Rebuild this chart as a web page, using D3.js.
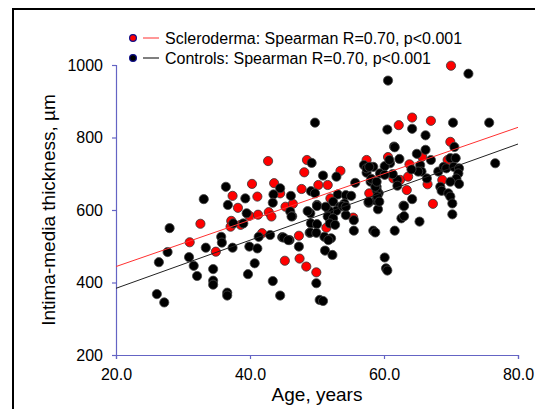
<html>
  <head>
    <title>IMT vs age</title>
    <script src="https://d3js.org/d3.v7.min.js"></script>
    <style>
      body { margin: 0; background: #fff; }
      text { font-family: "Liberation Sans", Arial, sans-serif; }
    </style>
  </head>
  <body>
    <div id="wrapper"></div>
    <script>
      // Scleroderma patients [age, IMT]
      var sclero = [
        [42.7,735],[48.5,738],[48.1,704],[40.3,672],[43.6,674],[47.7,658],[50.2,669],
        [37.4,639],[41.1,637],[44.5,646],[38.2,606],[45.3,609],[46.4,617],[39.9,584],
        [41.2,587],[42.8,594],[43.2,582],[32.6,562],[37.2,570],[37.1,554],[38.6,559],
        [41.8,536],[47.3,529],[31.0,511],[34.9,485],[45.2,460],[47.4,466],[48.4,444],
        [49.9,428],[53.5,708],[57.4,738],[61.4,687],[62.4,683],[51.6,669],[52.0,632],
        [51.4,551],[55.4,579],[57.8,646],[70.0,998],[62.2,834],[64.2,855],[67.0,846],
        [69.9,788],[65.7,747],[60.6,746],[69.5,738],[63.6,692],[63.8,726],[68.7,683],
        [66.5,671],[63.4,655],[67.3,617]
      ];
      // Controls [age, IMT]
      var controls = [
        [49.7,841],[49.2,730],[36.4,664],[44.5,660],[49.1,652],[33.1,630],[39.3,632],
        [43.5,643],[46.1,639],[36.7,614],[43.4,620],[50.0,614],[39.5,591],[46.0,596],
        [46.3,583],[49.0,591],[49.1,563],[50.0,561],[28.0,550],[37.5,563],[39.0,563],
        [41.3,526],[43.0,531],[44.8,525],[45.9,517],[48.9,537],[35.7,526],[35.8,510],
        [27.7,484],[26.4,456],[30.9,470],[33.4,496],[37.4,496],[39.9,499],[41.1,494],
        [47.3,499],[31.6,446],[34.5,437],[40.7,453],[32.1,418],[39.7,423],[43.4,404],
        [34.5,405],[34.5,394],[49.9,398],[26.1,368],[27.2,345],[36.6,372],[36.6,364],
        [44.5,364],[50.4,352],[50.9,695],[52.9,692],[57.0,724],[57.4,703],[58.4,719],
        [61.5,775],[60.9,729],[60.1,721],[62.0,683],[49.7,646],[53.1,643],[52.4,623],
        [54.3,641],[55.1,639],[55.7,675],[54.1,618],[53.4,609],[52.9,598],[51.8,598],
        [51.6,582],[52.4,577],[51.9,563],[52.7,559],[51.1,526],[52.1,522],[51.7,517],
        [51.2,488],[52.3,476],[55.5,572],[54.3,586],[55.5,543],[58.4,543],[61.6,543],
        [57.7,620],[59.1,602],[58.8,626],[59.2,646],[58.9,664],[58.0,678],[60.1,469],
        [60.3,439],[48.6,597],[49.0,538],[49.9,537],[50.0,611],[51.3,609],[46.2,582],
        [45.0,524],[45.7,517],[50.9,349],[72.6,976],[60.6,957],[60.5,822],[64.2,824],
        [70.3,841],[75.7,841],[66.2,806],[70.5,774],[61.6,773],[66.2,766],[64.9,755],
        [62.3,741],[60.8,738],[67.0,738],[69.9,743],[70.7,743],[57.4,715],[57.8,719],
        [61.3,699],[65.4,724],[65.6,706],[65.1,706],[64.1,712],[68.1,706],[68.9,719],
        [69.3,715],[70.4,719],[71.2,715],[71.1,701],[70.8,687],[71.2,672],[76.6,729],
        [66.4,687],[69.9,678],[62.0,667],[64.2,630],[68.4,664],[68.6,653],[69.6,646],
        [69.9,637],[70.2,618],[62.9,612],[53.8,611],[54.3,609],[57.7,623],[58.9,655],
        [59.0,637],[59.3,623],[58.7,664],[59.4,701],[60.1,697],[58.1,686],[58.9,678],
        [58.7,538],[62.6,577],[63.0,583],[65.3,568],[63.0,611],[70.2,588],[60.5,433]
      ];
      // regression line end points
      var scleroFit = [[20,444],[80,828]];
      var controlFit = [[20,384],[80,782]];

      var xTicks = [20,40,60,80];
      var yTicks = [200,400,600,800,1000];
      var legendLabels = ["Scleroderma: Spearman R=0.70, p<0.001",
                          "Controls: Spearman R=0.70, p<0.001"];

      var width = 535, height = 409;
      var axisColor = "#6464c4";

      var svg = d3.select("#wrapper").append("svg")
        .attr("width", width)
        .attr("height", height);

      // outer frame
      svg.append("rect")
        .attr("x", 13).attr("y", 9)
        .attr("width", 560).attr("height", 440)
        .attr("fill", "none")
        .attr("stroke", "#000")
        .attr("stroke-width", 2);

      var xScale = d3.scaleLinear().domain([20,80]).range([116,518]);
      var yScale = d3.scaleLinear().domain([200,1000]).range([355,65]);

      var xAxis = d3.axisBottom(xScale).tickValues(xTicks)
        .tickSize(4).tickPadding(10).tickFormat(d3.format(".1f"));
      var yAxis = d3.axisLeft(yScale).tickValues(yTicks)
        .tickSize(4).tickPadding(9).tickFormat(d3.format("d"));

      var gx = svg.append("g")
        .attr("transform", "translate(0,355)")
        .call(xAxis);
      var gy = svg.append("g")
        .attr("transform", "translate(116,0)")
        .call(yAxis);

      [gx, gy].forEach(function(g) {
        g.selectAll("path, line").attr("stroke", axisColor).attr("stroke-width", 1.2);
        g.selectAll("text")
          .attr("fill", "#000")
          .style("font-size", "16px")
          .style("font-family", "'Liberation Sans', Arial, sans-serif");
      });

      // axis titles
      svg.append("text")
        .attr("x", 317).attr("y", 401)
        .style("text-anchor", "middle")
        .style("font-size", "19px")
        .text("Age, years");
      svg.append("text")
        .attr("transform", "translate(55,210) rotate(-90)")
        .style("text-anchor", "middle")
        .style("font-size", "19px")
        .text("Intima-media thickness, \u00b5m");

      // points
      svg.append("g").selectAll("circle")
        .data(sclero).enter().append("circle")
        .attr("cx", function(d) { return xScale(d[0]); })
        .attr("cy", function(d) { return yScale(d[1]); })
        .attr("r", 4.6)
        .attr("fill", "#ff0000")
        .attr("stroke", "#333")
        .attr("stroke-width", 0.8);

      svg.append("g").selectAll("circle")
        .data(controls).enter().append("circle")
        .attr("cx", function(d) { return xScale(d[0]); })
        .attr("cy", function(d) { return yScale(d[1]); })
        .attr("r", 4.6)
        .attr("fill", "#000")
        .attr("stroke", "#444")
        .attr("stroke-width", 0.8);

      // regression lines
      var line = d3.line()
        .x(function(d) { return xScale(d[0]); })
        .y(function(d) { return yScale(d[1]); });
      svg.append("path").datum(scleroFit)
        .attr("d", line).attr("fill", "none")
        .attr("stroke", "#ff3030").attr("stroke-width", 1);
      svg.append("path").datum(controlFit)
        .attr("d", line).attr("fill", "none")
        .attr("stroke", "#222").attr("stroke-width", 1);

      // legend
      var legendColors = ["#ff0000", "#000"];
      var lineColors = ["#ff3030", "#000"];
      legendLabels.forEach(function(label, i) {
        var y = 38 + i * 20;
        svg.append("circle")
          .attr("cx", 133).attr("cy", y)
          .attr("r", 3.4)
          .attr("fill", legendColors[i])
          .attr("stroke", "#10108a")
          .attr("stroke-width", 1.2);
        svg.append("line")
          .attr("x1", 143).attr("x2", 159)
          .attr("y1", y).attr("y2", y)
          .attr("stroke", lineColors[i])
          .attr("stroke-width", 1);
        svg.append("text")
          .attr("x", 165).attr("y", y + 6)
          .style("font-size", "16px")
          .text(label);
      });
    </script>
  </body>
</html>
